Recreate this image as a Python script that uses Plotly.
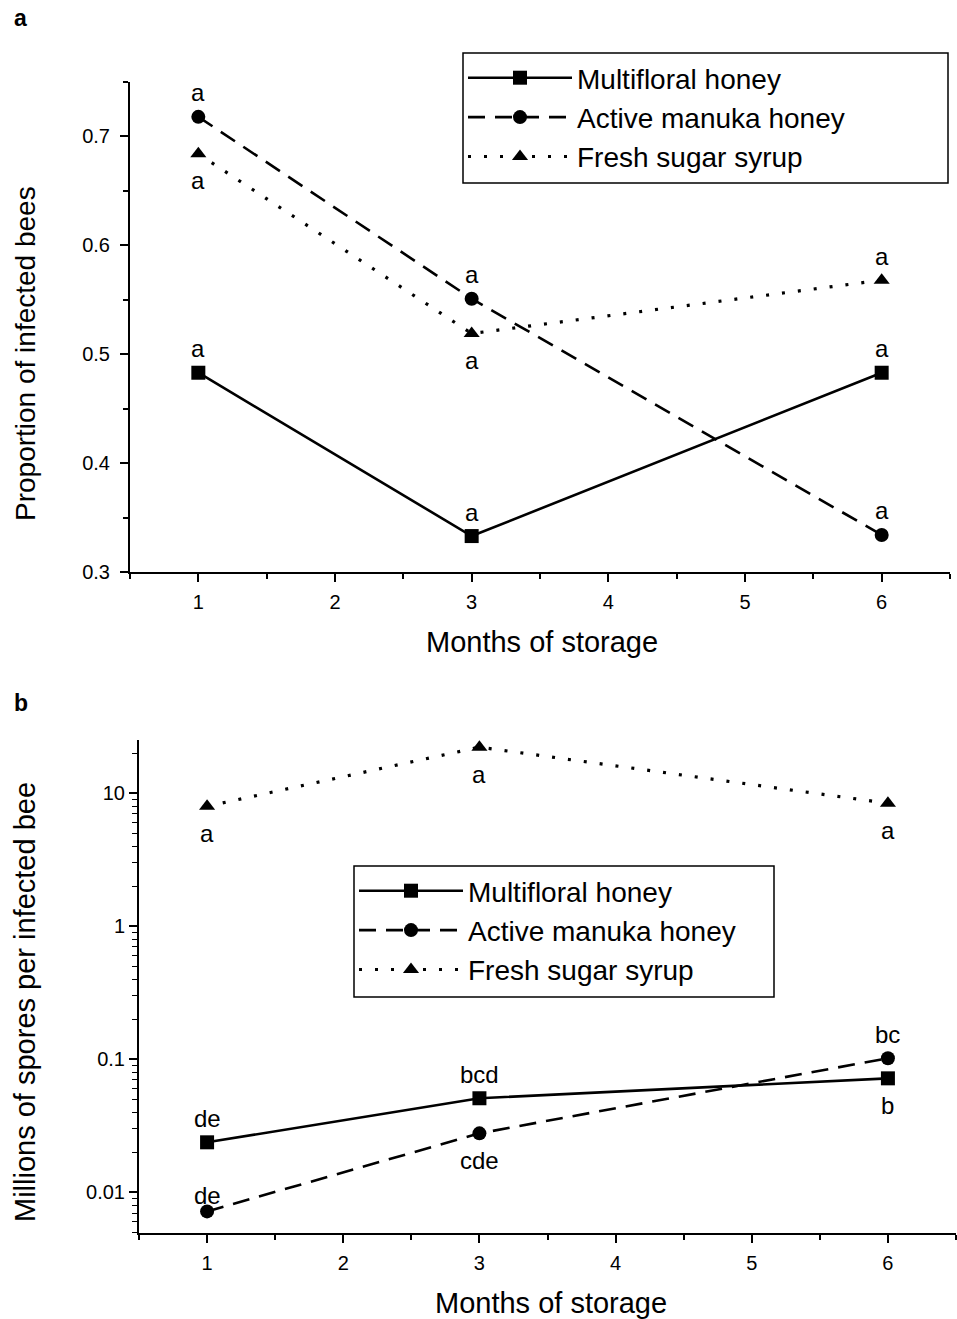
import plotly.graph_objects as go
import numpy as np

months = [1, 3, 6]
series_names = ["Multifloral honey", "Active manuka honey", "Fresh sugar syrup"]

# Panel a: proportion of infected bees
prop_multifloral = [0.483, 0.333, 0.483]
prop_manuka = [0.718, 0.551, 0.334]
prop_sugar = [0.684, 0.519, 0.568]

# Panel b: millions of spores per infected bee
spores_multifloral = [0.0238, 0.051, 0.072]
spores_manuka = [0.0072, 0.0278, 0.102]
spores_sugar = [7.98, 22.2, 8.4]

# significance letters
letters_a_multifloral = ["a", "a", "a"]
letters_a_manuka = ["a", "a", "a"]
letters_a_sugar = ["a", "a", "a"]
letters_b_multifloral = ["de", "bcd", "b"]
letters_b_manuka = ["de", "cde", "bc"]
letters_b_sugar = ["a", "a", "a"]

# label side: +1 above, -1 below
side_a_multifloral = [1, 1, 1]
side_a_manuka = [1, 1, 1]
side_a_sugar = [-1, -1, 1]
side_b_multifloral = [1, 1, -1]
side_b_manuka = [0.65, -1, 1]
side_b_sugar = [-1, -1, -1]

styles = {
    "Multifloral honey": dict(dash="solid", symbol="square", width=2.6),
    "Active manuka honey": dict(dash="17px,10px", symbol="circle", width=2.6),
    "Fresh sugar syrup": dict(dash="3px,13px", symbol="triangle-up", width=3.2),
}

FONT = "Liberation Sans, Arial, Helvetica, sans-serif"
W, H = 957, 1319

fig = go.Figure()

panel_a = [prop_multifloral, prop_manuka, prop_sugar]
panel_b = [spores_multifloral, spores_manuka, spores_sugar]

for name, vals in zip(series_names, panel_a):
    st = styles[name]
    fig.add_trace(go.Scatter(
        x=months, y=vals, name=name, xaxis="x", yaxis="y", legend="legend",
        mode="lines+markers",
        line=dict(color="black", width=st["width"], dash=st["dash"]),
        marker=dict(symbol=st["symbol"], size=14, color="black"),
    ))

for name, vals in zip(series_names, panel_b):
    st = styles[name]
    fig.add_trace(go.Scatter(
        x=months, y=vals, name=name, xaxis="x2", yaxis="y2", legend="legend2",
        mode="lines+markers",
        line=dict(color="black", width=st["width"], dash=st["dash"]),
        marker=dict(symbol=st["symbol"], size=14, color="black"),
    ))

annotations = []
SHIFT = 24

def add_letters(xs, ys, letters, sides, xref, yref, log=False):
    for xv, yv, t, s in zip(xs, ys, letters, sides):
        annotations.append(dict(
            x=xv, y=(np.log10(yv) if log else yv), xref=xref, yref=yref,
            text=t, showarrow=False, yshift=SHIFT * s + (-3 if s < 0 else 0),
            xanchor="center", yanchor="middle",
            font=dict(family=FONT, size=24, color="black"),
        ))

add_letters(months, prop_multifloral, letters_a_multifloral, side_a_multifloral, "x", "y")
add_letters(months, prop_manuka, letters_a_manuka, side_a_manuka, "x", "y")
add_letters(months, prop_sugar, letters_a_sugar, side_a_sugar, "x", "y")
add_letters(months, spores_multifloral, letters_b_multifloral, side_b_multifloral, "x2", "y2", log=True)
add_letters(months, spores_manuka, letters_b_manuka, side_b_manuka, "x2", "y2", log=True)
add_letters(months, spores_sugar, letters_b_sugar, side_b_sugar, "x2", "y2", log=True)

# panel letters
annotations.append(dict(x=12 / W, y=1 - 18 / H, xref="paper", yref="paper", text="<b>a</b>",
                        showarrow=False, xanchor="left", yanchor="middle",
                        font=dict(family=FONT, size=23, color="black")))
annotations.append(dict(x=12 / W, y=1 - 703 / H, xref="paper", yref="paper", text="<b>b</b>",
                        showarrow=False, xanchor="left", yanchor="middle",
                        font=dict(family=FONT, size=23, color="black")))

# axis titles
annotations.append(dict(x=542 / W, y=1 - 642 / H, xref="paper", yref="paper", text="Months of storage",
                        showarrow=False, xanchor="center", yanchor="middle",
                        font=dict(family=FONT, size=29, color="black")))
annotations.append(dict(x=551 / W, y=1 - 1303 / H, xref="paper", yref="paper", text="Months of storage",
                        showarrow=False, xanchor="center", yanchor="middle",
                        font=dict(family=FONT, size=29, color="black")))
annotations.append(dict(x=25 / W, y=1 - 354 / H, xref="paper", yref="paper", text="Proportion of infected bees",
                        showarrow=False, xanchor="center", yanchor="middle", textangle=-90,
                        font=dict(family=FONT, size=28, color="black")))
annotations.append(dict(x=25 / W, y=1 - 1002 / H, xref="paper", yref="paper", text="Millions of spores per infected bee",
                        showarrow=False, xanchor="center", yanchor="middle", textangle=-90,
                        font=dict(family=FONT, size=29, color="black")))

# legend frames
shapes = [
    dict(type="rect", xref="paper", yref="paper", x0=463 / W, x1=948 / W,
         y0=1 - 183 / H, y1=1 - 53 / H, line=dict(color="black", width=1.5),
         fillcolor="rgba(0,0,0,0)", layer="below"),
    dict(type="rect", xref="paper", yref="paper", x0=354 / W, x1=774 / W,
         y0=1 - 997 / H, y1=1 - 866 / H, line=dict(color="black", width=1.5),
         fillcolor="rgba(0,0,0,0)", layer="below"),
]

tickfont = dict(family=FONT, size=20, color="black")
common_x = dict(
    showgrid=False, zeroline=False, showline=True, linecolor="black", linewidth=2,
    ticks="outside", ticklen=8, tickwidth=1.5, tickcolor="black", ticklabelstandoff=3,
    tick0=1, dtick=1, range=[0.5, 6.5], tickfont=tickfont, automargin=False,
    minor=dict(ticks="outside", ticklen=5, tickwidth=1.5, tickcolor="black", dtick=0.5, tick0=0.5, showgrid=False),
)

legend_common = dict(xanchor="left", yanchor="top", borderwidth=0,
                     bgcolor="rgba(0,0,0,0)", font=dict(family=FONT, size=28, color="black"),
                     itemwidth=104, tracegroupgap=0)

fig.update_layout(
    width=W, height=H,
    margin=dict(l=0, r=0, t=0, b=0),
    paper_bgcolor="white", plot_bgcolor="white",
    font=dict(family=FONT, color="black"),
    xaxis=dict(domain=[130 / W, 950 / W], anchor="y", **common_x),
    yaxis=dict(domain=[1 - 572 / H, 1 - 82 / H], anchor="x", range=[0.3, 0.75],
               showgrid=False, zeroline=False, showline=True, linecolor="black", linewidth=2,
               ticks="outside", ticklen=8, tickwidth=1.5, tickcolor="black", ticklabelstandoff=6,
               tick0=0.3, dtick=0.1, tickformat=".1f", tickfont=tickfont, automargin=False,
               minor=dict(ticks="outside", ticklen=5, tickwidth=1.5, tickcolor="black", dtick=0.05, tick0=0.3, showgrid=False)),
    xaxis2=dict(domain=[139 / W, 956 / W], anchor="y2", **common_x),
    yaxis2=dict(domain=[1 - 1233 / H, 1 - 740 / H], anchor="x2", type="log", range=[-2.305, 1.4],
                showgrid=False, zeroline=False, showline=True, linecolor="black", linewidth=2,
                ticks="outside", ticklen=8, tickwidth=1.5, tickcolor="black",
                tickvals=[0.01, 0.1, 1, 10], ticktext=["0.01", "0.1", "1", "10"],
                tickfont=tickfont, automargin=False,
                minor=dict(ticks="outside", ticklen=5, tickwidth=1.2, tickcolor="black", dtick="D1", showgrid=False)),
    legend=dict(x=463 / W, y=1 - 53 / H, **legend_common),
    legend2=dict(x=354 / W, y=1 - 866 / H, **legend_common),
    showlegend=True,
    shapes=shapes,
    annotations=annotations,
)

fig.write_html("out.html", config={"displayModeBar": False},
               post_script="document.body.style.margin='0px';")
